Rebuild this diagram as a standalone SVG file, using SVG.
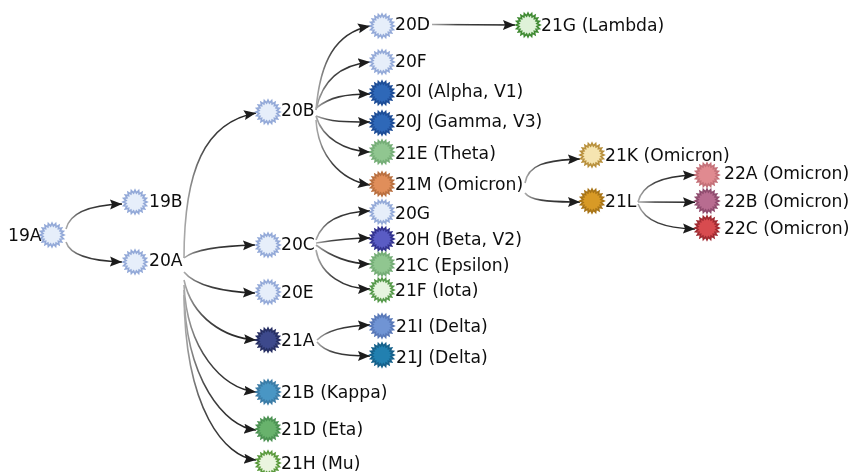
<svg xmlns="http://www.w3.org/2000/svg" width="851" height="472" viewBox="0 0 851 472">
<style>
text{font-family:"DejaVu Sans",sans-serif;font-size:17.2px;fill:#111;stroke:none;dominant-baseline:central}
#edges path{fill:none;stroke:url(#fade);stroke-width:1.6;marker-end:url(#ah)}
.g1{fill:#e6eefa;stroke:#93a9d8}
</style>
<defs>
<linearGradient id="fade" x1="0" x2="1" y1="0" y2="0"><stop offset="0" stop-color="#aaa"/><stop offset="0.3" stop-color="#444"/><stop offset="1" stop-color="#1c1c1c"/></linearGradient>
<marker id="ah" markerUnits="userSpaceOnUse" markerWidth="14" markerHeight="12" refX="12" refY="6" orient="auto"><path d="M0,1 L12,6 L0,11 L2,6 Z" fill="#1c1c1c"/></marker>
<polygon id="star" stroke-width="1.7" stroke-linejoin="miter" transform="scale(.96)" points="12.4,0 9.28,1.47 11.79,3.83 8.38,4.27 10.03,7.29 6.65,6.65 7.29,10.03 4.27,8.38 3.83,11.79 1.47,9.28 0,12.4 -1.47,9.28 -3.83,11.79 -4.27,8.38 -7.29,10.03 -6.65,6.65 -10.03,7.29 -8.38,4.27 -11.79,3.83 -9.28,1.47 -12.4,0 -9.28,-1.47 -11.79,-3.83 -8.38,-4.27 -10.03,-7.29 -6.65,-6.65 -7.29,-10.03 -4.27,-8.38 -3.83,-11.79 -1.47,-9.28 0,-12.4 1.47,-9.28 3.83,-11.79 4.27,-8.38 7.29,-10.03 6.65,-6.65 10.03,-7.29 8.38,-4.27 11.79,-3.83 9.28,-1.47"/>
<filter id="soft" x="-2%" y="-2%" width="104%" height="104%"><feGaussianBlur stdDeviation="0.4"/></filter>
</defs>
<rect width="851" height="472" fill="#fff"/>
<g filter="url(#soft)">
<g id="edges">
<path d="M66,229 C70,212 92,205 122,204"/>
<path d="M66,242 C70,255 92,261 122,262"/>
<path d="M184,258 C184,170 205,122 256,113"/>
<path d="M184,258 C195,249 220,246 255,245"/>
<path d="M184,272 C195,286 225,292 255,293"/>
<path d="M184,280 C192,318 225,338 256,340"/>
<path d="M184,285 C187,350 222,388 256,392"/>
<path d="M184,290 C185,380 225,427 256,430"/>
<path d="M184,295 C185,410 225,457 256,460"/>
<path d="M316,110 C320,62 335,33 370,26"/>
<path d="M316,110 C322,80 340,65 370,62"/>
<path d="M316,108 C330,97 345,94 370,94"/>
<path d="M316,116 C330,122 345,122 370,122"/>
<path d="M316,116 C322,138 345,151 370,152"/>
<path d="M316,120 C318,155 340,180 370,185"/>
<path d="M316,240 C322,222 340,212 370,211"/>
<path d="M316,243 C335,240 350,238 370,238"/>
<path d="M316,245 C330,256 350,264 370,264"/>
<path d="M316,250 C320,275 345,289 370,289"/>
<path d="M317,340 C325,332 340,326 370,325"/>
<path d="M317,342 C325,352 340,356 370,356"/>
<path d="M432,24.5 L515,25"/>
<path d="M525,183 C528,165 545,160 580,159"/>
<path d="M525,193 C530,200 545,202 580,202"/>
<path d="M638,202 C642,185 660,176 695,175"/>
<path d="M638,202 L695,202.3"/>
<path d="M638,204 C645,222 665,228 695,229"/>
</g>
<g id="n19A" class="g1"><use href="#star" x="52" y="235"/><text x="8" y="235">19A</text></g>
<g id="n19B" class="g1"><use href="#star" x="135" y="202"/><text x="149" y="201">19B</text></g>
<g id="n20A" class="g1"><use href="#star" x="135" y="262"/><text x="149" y="260">20A</text></g>
<g id="n20B" class="g1"><use href="#star" x="268" y="112"/><text x="281" y="110">20B</text></g>
<g id="n20C" class="g1"><use href="#star" x="268" y="245"/><text x="281" y="244">20C</text></g>
<g id="n20E" class="g1"><use href="#star" x="268" y="292"/><text x="281" y="292">20E</text></g>
<g id="n21A" fill="#3c4a8c" stroke="#262f63"><use href="#star" x="268" y="340"/><text x="281" y="340">21A</text></g>
<g id="n21B" fill="#4a96c4" stroke="#3a7ba6"><use href="#star" x="268" y="392"/><text x="281" y="392">21B (Kappa)</text></g>
<g id="n21D" fill="#67b26c" stroke="#4c9252"><use href="#star" x="268" y="429"/><text x="281" y="429">21D (Eta)</text></g>
<g id="n21H" fill="#eaf5df" stroke="#5a9a3c"><use href="#star" x="268" y="463"/><text x="281" y="463">21H (Mu)</text></g>
<g id="n20D" class="g1"><use href="#star" x="382" y="26"/><text x="395" y="24">20D</text></g>
<g id="n20F" class="g1"><use href="#star" x="382" y="62"/><text x="395" y="61">20F</text></g>
<g id="n20I" fill="#2f68b8" stroke="#1c4c96"><use href="#star" x="382" y="93"/><text x="395" y="91">20I (Alpha, V1)</text></g>
<g id="n20J" fill="#2f68b8" stroke="#1c4c96"><use href="#star" x="382" y="123"/><text x="395" y="121">20J (Gamma, V3)</text></g>
<g id="n21E" fill="#90c690" stroke="#74ad76"><use href="#star" x="382" y="152"/><text x="395" y="153">21E (Theta)</text></g>
<g id="n21M" fill="#e08e5a" stroke="#b96f3f"><use href="#star" x="382" y="184"/><text x="395" y="184">21M (Omicron)</text></g>
<g id="n20G" class="g1"><use href="#star" x="382" y="212"/><text x="395" y="213">20G</text></g>
<g id="n20H" fill="#5a5cc4" stroke="#33338f"><use href="#star" x="382" y="239"/><text x="395" y="239">20H (Beta, V2)</text></g>
<g id="n21C" fill="#90c690" stroke="#74ad76"><use href="#star" x="382" y="264"/><text x="395" y="265">21C (Epsilon)</text></g>
<g id="n21F" fill="#e6f4df" stroke="#55994a"><use href="#star" x="382" y="290"/><text x="395" y="290">21F (Iota)</text></g>
<g id="n21I" fill="#6f94d4" stroke="#5878b8"><use href="#star" x="382" y="326"/><text x="396" y="326">21I (Delta)</text></g>
<g id="n21J" fill="#2080b0" stroke="#14608a"><use href="#star" x="382" y="355"/><text x="396" y="357">21J (Delta)</text></g>
<g id="n21G" fill="#dff2d8" stroke="#3f8a33"><use href="#star" x="528" y="25"/><text x="541" y="25">21G (Lambda)</text></g>
<g id="n21K" fill="#f5e4b0" stroke="#b8903c"><use href="#star" x="592" y="155"/><text x="605" y="155">21K (Omicron)</text></g>
<g id="n21L" fill="#d89a28" stroke="#a87418"><use href="#star" x="592" y="201"/><text x="605" y="201">21L</text></g>
<g id="n22A" fill="#e08a90" stroke="#c47078"><use href="#star" x="707" y="175"/><text x="724" y="173">22A (Omicron)</text></g>
<g id="n22B" fill="#b86c90" stroke="#8f4c6e"><use href="#star" x="707" y="201"/><text x="724" y="201">22B (Omicron)</text></g>
<g id="n22C" fill="#d84c50" stroke="#a02a30"><use href="#star" x="707" y="228"/><text x="724" y="228">22C (Omicron)</text></g>
</g>
</svg>
